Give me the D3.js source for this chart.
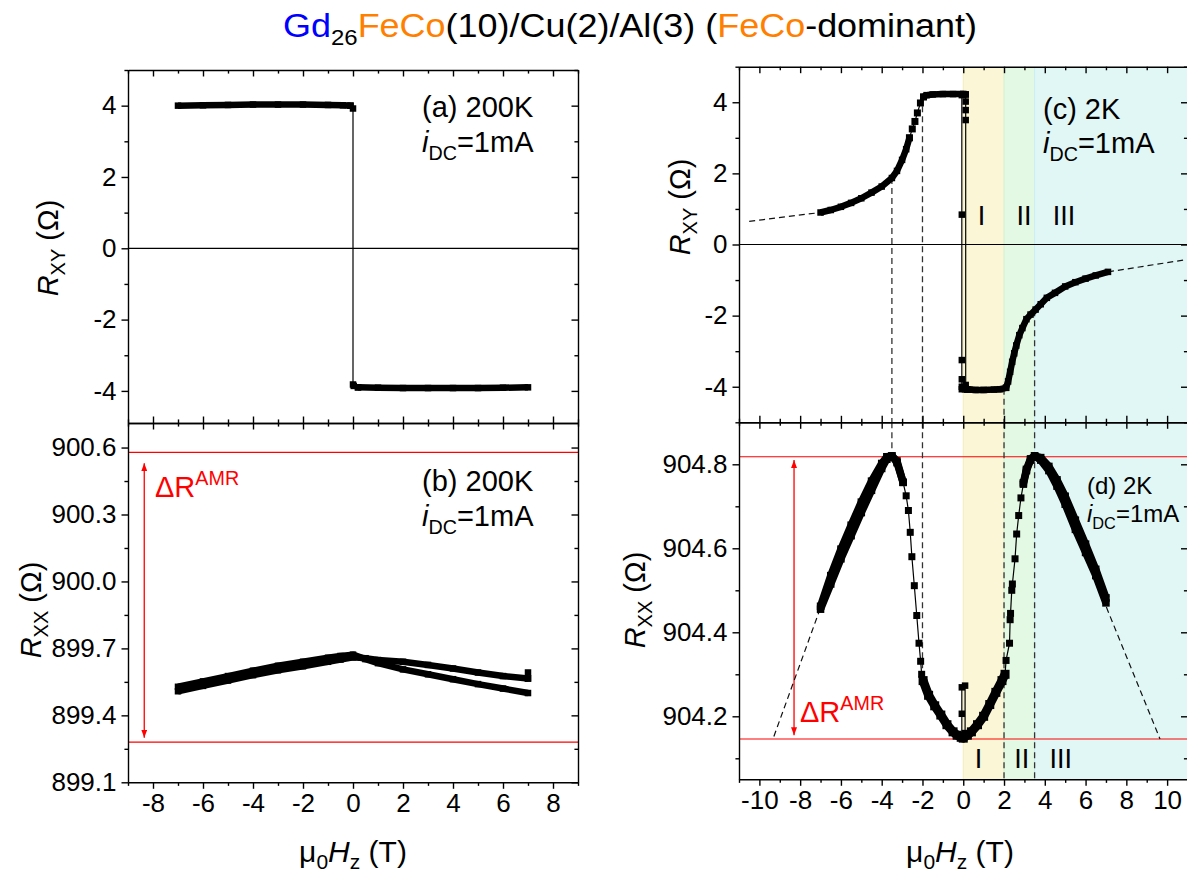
<!DOCTYPE html>
<html lang="en">
<head>
<meta charset="UTF-8">
<title>GdFeCo Hall and AMR</title>
<script src="https://d3js.org/d3.v7.min.js"></script>
<style>
  html, body { margin: 0; background: white; }
  svg { display: block; font-family: "Liberation Sans", Arial, sans-serif; }
  .axis path, .axis line { stroke: black; stroke-width: 1.4; }
  .axis text { font-size: 26px; fill: black; font-family: "Liberation Sans", Arial, sans-serif; }
</style>
</head>
<body>
<svg id="chart" width="1187" height="874"></svg>
<script>
// ---------- axis ticks ----------
const leftFieldTicks = [-8, -6, -4, -2, 0, 2, 4, 6, 8];
const leftFieldMinor = [-9, -7, -5, -3, -1, 1, 3, 5, 7, 9];
const rightFieldTicks = [-10, -8, -6, -4, -2, 0, 2, 4, 6, 8, 10];
const rightFieldMinor = [-11, -9, -7, -5, -3, -1, 1, 3, 5, 7, 9, 11];
const rxyTicks = [-4, -2, 0, 2, 4];
const rxyMinor = [-5, -3, -1, 1, 3, 5];
const rxxTicksB = [899.1, 899.4, 899.7, 900.0, 900.3, 900.6];
const rxxMinorB = [899.25, 899.55, 899.85, 900.15, 900.45];
const rxxTicksD = [904.2, 904.4, 904.6, 904.8];
const rxxMinorD = [904.1, 904.3, 904.5, 904.7];

// ---------- (a) 200K Rxy ----------
const aUpperField = [-7, -6, -5, -4, -3, -2, -1, -0.4, -0.1];
const aUpperRxy   = [4.0, 4.01, 4.02, 4.03, 4.03, 4.03, 4.02, 4.01, 4.0];
const aSwitchField = [-0.1, 0, 0, 0.03, 0.2];
const aSwitchRxy   = [4.0, 3.92, -3.82, -3.86, -3.9];
const aLowerField = [0.2, 1, 2, 3, 4, 5, 6, 7];
const aLowerRxy   = [-3.9, -3.91, -3.92, -3.92, -3.92, -3.92, -3.91, -3.9];

// ---------- (b) 200K Rxx ----------
const bField = [-7, -6, -5, -4, -3, -2, -1, -0.5, 0, 0.5, 1, 2, 3, 4, 5, 6, 7];
const bRxxUp   = [899.508, 899.532, 899.556, 899.58, 899.602, 899.62, 899.64, 899.65, 899.66, 899.656, 899.648, 899.64, 899.626, 899.61, 899.592, 899.576, 899.565];
const bRxxDown = [899.528, 899.552, 899.576, 899.6, 899.622, 899.64, 899.658, 899.666, 899.672, 899.652, 899.634, 899.606, 899.584, 899.562, 899.54, 899.52, 899.5];
const bEndField = [7, 7];
const bEndRxx = [899.565, 899.592];
const bAmrLevels = [900.578, 899.28];
const bArrowField = -8.35;
const bArrowRxx = [900.53, 899.30];

// ---------- (c) 2K Rxy ----------
const cLeftField = [-7, -6.5, -6, -5.5, -5, -4.5, -4, -3.5, -3.25, -3, -2.8, -2.64];
const cLeftRxy   = [0.9, 0.97, 1.06, 1.17, 1.3, 1.46, 1.63, 1.87, 2.07, 2.38, 2.68, 3.0];
const cRiseField = [-2.64, -2.5, -2.37, -2.25, -2.1, -1.95];
const cRiseRxy   = [3.0, 3.25, 3.46, 3.7, 3.98, 4.15];
const cTopField = [-1.95, -1.8, -1.5, -1, -0.5, 0, 0.12];
const cTopRxy   = [4.15, 4.2, 4.22, 4.23, 4.23, 4.23, 4.22];
const cDropField = [0.12, 0.12, 0.12, 0.12, 0.12, 0.12, 0.2];
const cDropRxy   = [4.22, 4.02, 3.78, 3.5, -3.95, -4.05, -4.08];
const cFlipField = [0.2, -0.07, -0.07, -0.07, -0.07, -0.07, 0];
const cFlipRxy   = [-4.08, -4.0, -3.79, -3.25, 0.84, 4.2, 4.23];
const cBottomField = [-0.07, 0.3, 0.6, 1, 1.5, 1.8, 2.1];
const cBottomRxy   = [-4.07, -4.08, -4.09, -4.09, -4.08, -4.07, -4.03];
const cRightField = [2.1, 2.2, 2.3, 2.4, 2.5, 2.6, 2.75, 2.9, 3.1, 3.3, 3.55, 3.8, 4.1, 4.5, 5, 5.5, 6, 6.5, 7.1];
const cRightRxy   = [-4.03, -3.85, -3.58, -3.3, -3.06, -2.84, -2.55, -2.35, -2.1, -1.97, -1.83, -1.68, -1.5, -1.36, -1.18, -1.06, -0.96, -0.87, -0.77];
const cExtLeftField = [-10.5, -7];
const cExtLeftRxy = [0.65, 0.9];
const cExtRightField = [7.1, 11];
const cExtRightRxy = [-0.77, -0.42];

// ---------- (d) 2K Rxx ----------
const dLeftField = [-7, -6.5, -6, -5.5, -5, -4.5, -4, -3.75, -3.5, -3.25, -2.95];
const dLeftRxxUp   = [904.455, 904.515, 904.575, 904.63, 904.685, 904.738, 904.79, 904.812, 904.82, 904.808, 904.757];
const dLeftRxxDown = [904.462, 904.535, 904.598, 904.655, 904.71, 904.76, 904.802, 904.818, 904.82, 904.804, 904.757];
const dFallField = [-2.95, -2.8, -2.69, -2.6, -2.52, -2.4, -2.28, -2.17, -2.09, -2.04, -1.97];
const dFallRxx   = [904.757, 904.725, 904.69, 904.638, 904.58, 904.511, 904.44, 904.374, 904.331, 904.30, 904.285];
const dValleyField = [-1.97, -1.7, -1.4, -1.1, -0.8, -0.5, -0.3, -0.1, 0, 0.2, 0.4, 0.7, 1.0, 1.3, 1.6, 1.9, 2.05];
const dValleyRxx   = [904.285, 904.25, 904.225, 904.203, 904.18, 904.163, 904.155, 904.15, 904.148, 904.155, 904.163, 904.18, 904.2, 904.228, 904.257, 904.285, 904.30];
const dSpikeField = [-0.07, -0.07, -0.07, 0.09, 0.09];
const dSpikeRxx   = [904.155, 904.206, 904.269, 904.273, 904.16];
const dClimbField = [2.05, 2.1, 2.27, 2.3, 2.32, 2.38, 2.41, 2.54, 2.62, 2.72, 2.83, 2.95];
const dClimbRxx   = [904.30, 904.333, 904.374, 904.43, 904.445, 904.50, 904.515, 904.575, 904.634, 904.678, 904.72, 904.753];
const dRightField = [2.95, 3.1, 3.3, 3.5, 3.8, 4.2, 4.6, 5.0, 5.5, 6.0, 6.5, 7.0];
const dRightRxxUp   = [904.753, 904.785, 904.81, 904.82, 904.81, 904.785, 904.748, 904.705, 904.645, 904.59, 904.535, 904.47];
const dRightRxxDown = [904.756, 904.788, 904.813, 904.82, 904.816, 904.795, 904.763, 904.724, 904.667, 904.61, 904.55, 904.482];
const dExtLeftField = [-9.29, -7.05];
const dExtLeftRxx = [904.152, 904.452];
const dExtRightField = [7.02, 9.65];
const dExtRightRxx = [904.46, 904.146];
const dAmrLevels = [904.818, 904.146];
const dArrowField = -8.3;
const dArrowRxx = [904.81, 904.155];

// guides and regions (2K panels)
const guideField = [-3.5, -2, 2, 3.5];
const cGuideFrom = [1.87, 4.17, -4.06, -1.85];
const dGuideTo = [904.82, 904.285, 904.05, 904.05];
const regionStart = [0, 2, 3.5];
const regionEnd = [2, 3.5, 11];
const regionColor = ["#faf6d6", "#e3f9e3", "#e1f7f6"];
const regionEdge = ["#f3ecbc", "#d6f0cf", "#c9eef2"];
const regionNames = ["I", "II", "III"];
const cRegionLabelField = [0.9, 2.98, 4.94];
const dRegionLabelField = [0.75, 2.87, 4.78];

// ---------- drawing ----------
const svg = d3.select("#chart");
svg.append("rect").attr("width", 1187).attr("height", 874).attr("fill", "white");
const defs = svg.append("defs");

const xL = d3.scaleLinear().domain([-9, 9]).range([128, 578]);
const xR = d3.scaleLinear().domain([-11, 11]).range([739, 1187.5]);
const yA = d3.scaleLinear().domain([-4.9, 5]).range([423, 70]);
const yB = d3.scaleLinear().domain([899.1, 900.71]).range([782.3, 423]);
const yC = d3.scaleLinear().domain([-5, 5]).range([422.3, 66.7]);
const yD = d3.scaleLinear().domain([904.05, 904.9]).range([779.3, 422.3]);

defs.append("marker").attr("id", "redArrow")
    .attr("viewBox", "0 0 8 6").attr("refX", 8).attr("refY", 3)
    .attr("markerWidth", 8).attr("markerHeight", 6).attr("markerUnits", "userSpaceOnUse")
    .attr("orient", "auto-start-reverse")
  .append("path").attr("d", "M0,0L8,3L0,6z").attr("fill", "red");

const pairs = (F, R) => F.map((f, i) => [f, R[i]]);

function panel(id, x, y) {
    defs.append("clipPath").attr("id", id).append("rect")
        .attr("x", x.range()[0]).attr("y", y.range()[1])
        .attr("width", x.range()[1] - x.range()[0])
        .attr("height", y.range()[0] - y.range()[1]);
    return svg.append("g").attr("clip-path", `url(#${id})`);
}

function lineOf(x, y) {
    return d3.line().x(d => x(d[0])).y(d => y(d[1]));
}

function squares(g, x, y, pts, s) {
    g.append("g").selectAll("rect").data(pts).join("rect")
        .attr("x", d => x(d[0]) - s / 2).attr("y", d => y(d[1]) - s / 2)
        .attr("width", s).attr("height", s).attr("fill", "black");
}

function band(g, x, y, F, R, w) {
    const pts = pairs(F, R);
    g.append("path").datum(pts).attr("d", lineOf(x, y))
        .attr("fill", "none").attr("stroke", "black")
        .attr("stroke-width", w).attr("stroke-linejoin", "round");
    squares(g, x, y, pts, w);
}

function sparse(g, x, y, F, R, s) {
    const pts = pairs(F, R);
    g.append("path").datum(pts).attr("d", lineOf(x, y))
        .attr("fill", "none").attr("stroke", "black").attr("stroke-width", 1.2);
    squares(g, x, y, pts, s);
}

function dashed(g, x, y, F, R) {
    g.append("path").datum(pairs(F, R)).attr("d", lineOf(x, y))
        .attr("fill", "none").attr("stroke", "#111").attr("stroke-width", 1.2)
        .attr("stroke-dasharray", "6,4");
}

function inDomain(vals, s) {
    const [a, b] = d3.extent(s.domain());
    return vals.filter(v => v >= a - 1e-9 && v <= b + 1e-9);
}

// gen: axis factory, pos: translate, size: major tick length (negative = inward)
function axis(gen, scale, pos, major, minor, size, fmt) {
    const g = svg.append("g").attr("class", "axis").attr("transform", pos);
    g.call(gen(scale).tickValues(inDomain(major, scale)).tickSizeInner(size)
        .tickSizeOuter(0).tickPadding(5).tickFormat(fmt || (() => "")));
    const m = svg.append("g").attr("class", "axis").attr("transform", pos);
    m.call(gen(scale).tickValues(inDomain(minor, scale)).tickSizeInner(size * 0.55)
        .tickSizeOuter(0).tickFormat(() => ""));
    m.select(".domain").remove();
    return g;
}

function frame(x, y, opts) {
    const [x0, x1] = x.range(), [yb, yt] = y.range();
    axis(d3.axisBottom, x, `translate(0,${yb})`, opts.xMajor, opts.xMinor,
        opts.xLabels ? 6.5 : -6.5, opts.xLabels ? (d => String(d)) : null);
    axis(d3.axisTop, x, `translate(0,${yt})`, opts.xMajor, opts.xMinor, -6.5, null);
    axis(d3.axisLeft, y, `translate(${x0},0)`, opts.yMajor, opts.yMinor, 6.5, opts.yFmt);
    axis(d3.axisRight, y, `translate(${x1},0)`, opts.yMajor, opts.yMinor, -6.5, null);
}

// ----- (a) -----
const gA = panel("clipA", xL, yA);
gA.append("line").attr("x1", xL(-9)).attr("x2", xL(9)).attr("y1", yA(0)).attr("y2", yA(0))
    .attr("stroke", "black").attr("stroke-width", 1.2);
sparse(gA, xL, yA, aSwitchField, aSwitchRxy, 6.5);
band(gA, xL, yA, aUpperField, aUpperRxy, 6.5);
band(gA, xL, yA, aLowerField, aLowerRxy, 6.5);

// ----- (b) -----
const gB = panel("clipB", xL, yB);
bAmrLevels.forEach(v => gB.append("line").attr("x1", xL(-9)).attr("x2", xL(9))
    .attr("y1", yB(v)).attr("y2", yB(v)).attr("stroke", "red").attr("stroke-width", 1.2));
gB.append("line").attr("x1", xL(bArrowField)).attr("x2", xL(bArrowField))
    .attr("y1", yB(bArrowRxx[0])).attr("y2", yB(bArrowRxx[1]))
    .attr("stroke", "red").attr("stroke-width", 1.3)
    .attr("marker-start", "url(#redArrow)").attr("marker-end", "url(#redArrow)");
band(gB, xL, yB, bField, bRxxUp, 6.5);
band(gB, xL, yB, bField, bRxxDown, 6.5);
squares(gB, xL, yB, pairs(bEndField, bEndRxx), 6.5);

// ----- (c) and (d) backgrounds -----
const gC = panel("clipC", xR, yC);
const gD = panel("clipD", xR, yD);
[[gC, yC], [gD, yD]].forEach(([g, y]) => {
    regionStart.forEach((s, i) => {
        g.append("rect").attr("x", xR(s)).attr("width", xR(regionEnd[i]) - xR(s))
            .attr("y", y.range()[1]).attr("height", y.range()[0] - y.range()[1])
            .attr("fill", regionColor[i]);
        g.append("line").attr("x1", xR(s)).attr("x2", xR(s))
            .attr("y1", y.range()[1]).attr("y2", y.range()[0])
            .attr("stroke", regionEdge[i]).attr("stroke-width", 1);
    });
});

// ----- (c) -----
gC.append("line").attr("x1", xR(-11)).attr("x2", xR(11)).attr("y1", yC(0)).attr("y2", yC(0))
    .attr("stroke", "black").attr("stroke-width", 1.2);
guideField.forEach((f, i) => gC.append("line")
    .attr("x1", xR(f)).attr("x2", xR(f)).attr("y1", yC(cGuideFrom[i])).attr("y2", yC(-5))
    .attr("stroke", "#333").attr("stroke-width", 1.3).attr("stroke-dasharray", "6,4"));
dashed(gC, xR, yC, cExtLeftField, cExtLeftRxy);
dashed(gC, xR, yC, cExtRightField, cExtRightRxy);
sparse(gC, xR, yC, cDropField, cDropRxy, 6.5);
sparse(gC, xR, yC, cFlipField, cFlipRxy, 6.5);
sparse(gC, xR, yC, cRiseField, cRiseRxy, 7);
band(gC, xR, yC, cLeftField, cLeftRxy, 6.5);
band(gC, xR, yC, cTopField, cTopRxy, 6.5);
band(gC, xR, yC, cBottomField, cBottomRxy, 6.5);
band(gC, xR, yC, cRightField, cRightRxy, 6.5);

// ----- (d) -----
dAmrLevels.forEach(v => gD.append("line").attr("x1", xR(-11)).attr("x2", xR(11))
    .attr("y1", yD(v)).attr("y2", yD(v)).attr("stroke", "red").attr("stroke-width", 1.2));
guideField.forEach((f, i) => gD.append("line")
    .attr("x1", xR(f)).attr("x2", xR(f)).attr("y1", yD(904.9)).attr("y2", yD(dGuideTo[i]))
    .attr("stroke", "#333").attr("stroke-width", 1.3).attr("stroke-dasharray", "6,4"));
gD.append("line").attr("x1", xR(dArrowField)).attr("x2", xR(dArrowField))
    .attr("y1", yD(dArrowRxx[0])).attr("y2", yD(dArrowRxx[1]))
    .attr("stroke", "red").attr("stroke-width", 1.3)
    .attr("marker-start", "url(#redArrow)").attr("marker-end", "url(#redArrow)");
dashed(gD, xR, yD, dExtLeftField, dExtLeftRxx);
dashed(gD, xR, yD, dExtRightField, dExtRightRxx);
sparse(gD, xR, yD, dFallField, dFallRxx, 7);
sparse(gD, xR, yD, dSpikeField, dSpikeRxx, 6.5);
sparse(gD, xR, yD, dClimbField, dClimbRxx, 7);
band(gD, xR, yD, dLeftField, dLeftRxxUp, 7.5);
band(gD, xR, yD, dLeftField, dLeftRxxDown, 7.5);
band(gD, xR, yD, dValleyField, dValleyRxx, 9);
band(gD, xR, yD, dRightField, dRightRxxUp, 7.5);
band(gD, xR, yD, dRightField, dRightRxxDown, 7.5);

// ----- axes -----
const intFmt = d => String(d);
const oneDec = d3.format(".1f");
frame(xL, yA, { xMajor: leftFieldTicks, xMinor: leftFieldMinor, yMajor: rxyTicks, yMinor: rxyMinor, xLabels: false, yFmt: intFmt });
frame(xL, yB, { xMajor: leftFieldTicks, xMinor: leftFieldMinor, yMajor: rxxTicksB, yMinor: rxxMinorB, xLabels: true, yFmt: oneDec });
frame(xR, yC, { xMajor: rightFieldTicks, xMinor: rightFieldMinor, yMajor: rxyTicks, yMinor: rxyMinor, xLabels: false, yFmt: intFmt });
frame(xR, yD, { xMajor: rightFieldTicks, xMinor: rightFieldMinor, yMajor: rxxTicksD, yMinor: rxxMinorD, xLabels: true, yFmt: oneDec });

// ----- text -----
function label(x, y, fs, parts, color) {
    const t = svg.append("text").attr("x", x).attr("y", y).attr("font-size", fs)
        .attr("fill", color || "black");
    parts.forEach(p => {
        const s = t.append("tspan").text(p.t);
        if (p.sub) s.attr("font-size", fs * 0.68).attr("dy", fs * 0.28);
        if (p.sup) s.attr("font-size", fs * 0.68).attr("dy", -fs * 0.42);
        if (p.back) s.attr("dy", p.back * fs);
        if (p.i) s.attr("font-style", "italic");
        if (p.c) s.attr("fill", p.c);
    });
    return t;
}
const idc = [{ t: "i", i: true }, { t: "DC", sub: true }, { t: "=1mA", back: -0.28 }];

label(422, 117, 29, [{ t: "(a) 200K" }]);
label(422, 152, 29, idc);
label(422, 491, 29, [{ t: "(b) 200K" }]);
label(422, 526, 29, idc);
label(1043, 119, 29, [{ t: "(c) 2K" }]);
label(1043, 153, 29, idc);
label(1087, 494, 24, [{ t: "(d) 2K" }]);
label(1087, 522, 24, idc);

label(155, 497, 29, [{ t: "\u0394R" }, { t: "AMR", sup: true }], "red");
label(800, 722, 29, [{ t: "\u0394R" }, { t: "AMR", sup: true }], "red");

regionNames.forEach((n, i) => {
    svg.append("text").attr("x", xR(cRegionLabelField[i])).attr("y", 225)
        .attr("text-anchor", "middle").attr("font-size", 27).text(n);
    svg.append("text").attr("x", xR(dRegionLabelField[i])).attr("y", 768)
        .attr("text-anchor", "middle").attr("font-size", 27).text(n);
});

// axis titles
function yTitle(cx, cy, sub) {
    const t = svg.append("text").attr("transform", `translate(${cx},${cy}) rotate(-90)`)
        .attr("text-anchor", "middle").attr("font-size", 29);
    t.append("tspan").attr("font-style", "italic").text("R");
    t.append("tspan").attr("font-size", 20).attr("dy", 7).text(sub);
    t.append("tspan").attr("dy", -7).text(" (\u03A9)");
}
yTitle(58, 248, "XY");
yTitle(41, 610, "XX");
yTitle(690, 207, "XY");
yTitle(645, 600, "XX");

function xTitle(cx) {
    const t = svg.append("text").attr("x", cx).attr("y", 862)
        .attr("text-anchor", "middle").attr("font-size", 30);
    t.append("tspan").text("\u03BC");
    t.append("tspan").attr("font-size", 21).attr("dy", 7).text("0");
    t.append("tspan").attr("dy", -7).attr("font-style", "italic").text("H");
    t.append("tspan").attr("font-size", 21).attr("dy", 7).text("z");
    t.append("tspan").attr("dy", -7).text(" (T)");
}
xTitle(353);
xTitle(960);

// title
const title = svg.append("text").attr("x", 283).attr("y", 37).attr("font-size", 33)
    .attr("textLength", 694).attr("lengthAdjust", "spacingAndGlyphs");
title.append("tspan").attr("fill", "#0000ff").text("Gd");
title.append("tspan").attr("font-size", 22).attr("dy", 8).text("26");
title.append("tspan").attr("dy", -8).attr("fill", "#ff8000").text("FeCo");
title.append("tspan").text("(10)/Cu(2)/Al(3) (");
title.append("tspan").attr("fill", "#ff8000").text("FeCo");
title.append("tspan").text("-dominant)");
</script>
</body>
</html>
